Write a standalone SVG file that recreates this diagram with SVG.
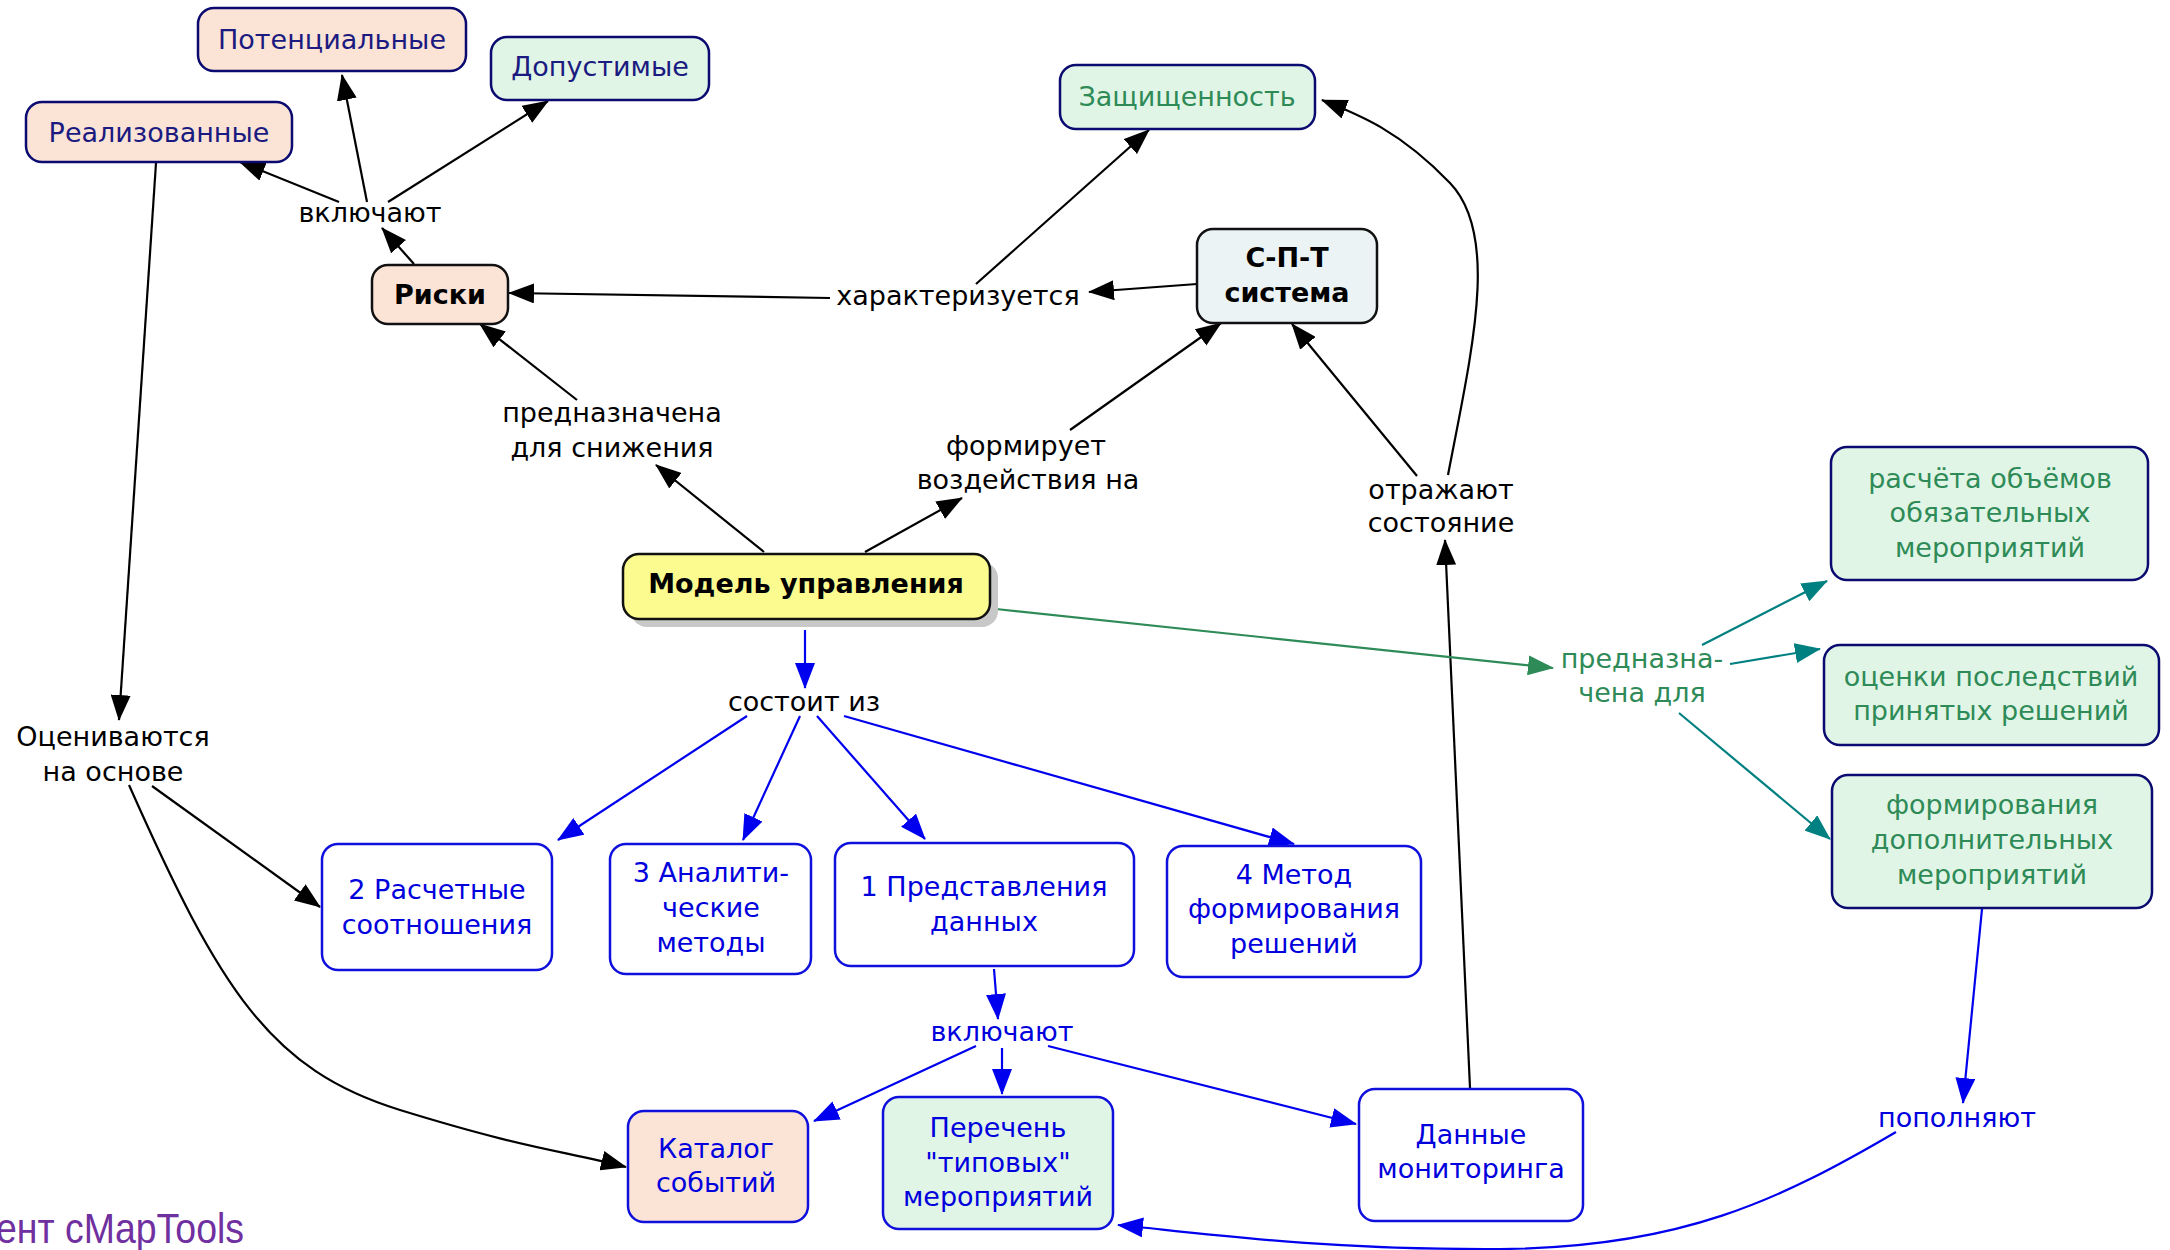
<svg xmlns="http://www.w3.org/2000/svg" width="2170" height="1250" viewBox="0 0 2170 1250">
<defs>
<style>
text{font-family:"DejaVu Sans","Verdana",sans-serif;font-size:27px;text-anchor:middle}
.nav{fill:#1a1a80}
.blk{fill:#000}
.blu{fill:#0000dd}
.grn{fill:#2e8b57}
.b{font-weight:bold}
.peach{fill:#fbe3d6;stroke:#0a0a70;stroke-width:2.5}
.green{fill:#e1f5e6;stroke:#0a0a70;stroke-width:2.5}
.white{fill:#fff;stroke:#1010dd;stroke-width:2.5}
.cb{fill:none;stroke:#000;stroke-width:2.2}
.cbl{fill:none;stroke:#0000ee;stroke-width:2.2}
.cg{fill:none;stroke:#2e8b57;stroke-width:2.2}
.ct{fill:none;stroke:#008080;stroke-width:2.2}
</style>
<marker id="ab" viewBox="0 0 26 20" refX="25" refY="10" markerWidth="26" markerHeight="20" orient="auto" markerUnits="userSpaceOnUse"><path d="M0,0 L26,10 L0,20 z" fill="#000"/></marker>
<marker id="abl" viewBox="0 0 26 20" refX="25" refY="10" markerWidth="26" markerHeight="20" orient="auto" markerUnits="userSpaceOnUse"><path d="M0,0 L26,10 L0,20 z" fill="#0000ee"/></marker>
<marker id="ag" viewBox="0 0 26 20" refX="25" refY="10" markerWidth="26" markerHeight="20" orient="auto" markerUnits="userSpaceOnUse"><path d="M0,0 L26,10 L0,20 z" fill="#2e8b57"/></marker>
<marker id="at" viewBox="0 0 26 20" refX="25" refY="10" markerWidth="26" markerHeight="20" orient="auto" markerUnits="userSpaceOnUse"><path d="M0,0 L26,10 L0,20 z" fill="#008080"/></marker>
</defs>
<rect width="2170" height="1250" fill="#fff"/>

<g id="connectors">
<path class="cb" d="M414,264 L382,228" marker-end="url(#ab)"/>
<path class="cb" d="M339,202 L240,162" marker-end="url(#ab)"/>
<path class="cb" d="M367,202 L342,75" marker-end="url(#ab)"/>
<path class="cb" d="M388,202 L548,101" marker-end="url(#ab)"/>
<path class="cb" d="M156,163 L119,720" marker-end="url(#ab)"/>
<path class="cb" d="M152,786 L320,907" marker-end="url(#ab)"/>
<path class="cb" d="M129,785 C220,990 270,1070 400,1110 S560,1150 626,1167" marker-end="url(#ab)"/>
<path class="cb" d="M830,298 L509,293" marker-end="url(#ab)"/>
<path class="cb" d="M1197,284 L1089,292" marker-end="url(#ab)"/>
<path class="cb" d="M976,284 L1149,130" marker-end="url(#ab)"/>
<path class="cb" d="M764,552 L656,465" marker-end="url(#ab)"/>
<path class="cb" d="M577,400 L480,324" marker-end="url(#ab)"/>
<path class="cb" d="M865,552 L962,498" marker-end="url(#ab)"/>
<path class="cb" d="M1070,430 L1221,323" marker-end="url(#ab)"/>
<path class="cb" d="M1417,476 L1292,324" marker-end="url(#ab)"/>
<path class="cb" d="M1448,475 C1472,350 1500,235 1450,183 S1360,115 1322,100" marker-end="url(#ab)"/>
<path class="cb" d="M1470,1088 L1445,540" marker-end="url(#ab)"/>
<path class="cbl" d="M805,630 L805,688" marker-end="url(#abl)"/>
<path class="cbl" d="M747,716 L558,840" marker-end="url(#abl)"/>
<path class="cbl" d="M800,716 L743,840" marker-end="url(#abl)"/>
<path class="cbl" d="M817,716 L925,839" marker-end="url(#abl)"/>
<path class="cbl" d="M844,716 L1294,844" marker-end="url(#abl)"/>
<path class="cbl" d="M994,969 L998,1019" marker-end="url(#abl)"/>
<path class="cbl" d="M976,1046 L814,1121" marker-end="url(#abl)"/>
<path class="cbl" d="M1002,1048 L1002,1094" marker-end="url(#abl)"/>
<path class="cbl" d="M1048,1046 L1356,1124" marker-end="url(#abl)"/>
<path class="cbl" d="M1982,909 L1963,1103" marker-end="url(#abl)"/>
<path class="cbl" d="M1896,1132 C1780,1200 1680,1248 1500,1249 S1200,1233 1118,1225" marker-end="url(#abl)"/>
<path class="cg" d="M996,609 L1553,668" marker-end="url(#ag)"/>
<path class="ct" d="M1702,645 L1827,581" marker-end="url(#at)"/>
<path class="ct" d="M1730,664 L1820,649" marker-end="url(#at)"/>
<path class="ct" d="M1679,713 L1830,839" marker-end="url(#at)"/>
</g>

<g id="n-potentsialnye"><rect class="peach" x="198" y="8" width="268" height="63" rx="16"/><text class="nav" x="332" y="49">Потенциальные</text></g>
<g id="n-dopustimye"><rect class="green" x="491" y="37" width="218" height="63" rx="16"/><text class="nav" x="600" y="76">Допустимые</text></g>
<g id="n-realizovannye"><rect class="peach" x="26" y="102" width="266" height="60" rx="16"/><text class="nav" x="159" y="142">Реализованные</text></g>
<g id="n-riski"><rect class="peach" x="372" y="265" width="136" height="59" rx="16" style="stroke:#111"/><text class="blk b" x="440" y="304">Риски</text></g>
<g id="n-zashchishchennost"><rect class="green" x="1060" y="65" width="255" height="64" rx="16"/><text class="grn" x="1187" y="106">Защищенность</text></g>
<g id="n-spt"><rect x="1197" y="229" width="180" height="94" rx="16" fill="#ebf3f5" stroke="#111" stroke-width="2.5"/><text class="blk b" x="1287" y="267">С-П-Т</text><text class="blk b" x="1287" y="302">система</text></g>
<g id="n-model"><rect x="631" y="562" width="367" height="65" rx="16" fill="#c8c8c8"/><rect x="623" y="554" width="367" height="65" rx="16" fill="#fbfb8f" stroke="#111" stroke-width="2.5"/><text class="blk b" x="806" y="593">Модель управления</text></g>

<g id="l-vkl1"><text class="blk" x="370" y="222">включают</text></g>
<g id="l-harakter"><text class="blk" x="958" y="305">характеризуется</text></g>
<g id="l-prednaz"><text class="blk" x="612" y="422">предназначена</text><text class="blk" x="612" y="457">для снижения</text></g>
<g id="l-formir"><text class="blk" x="1026" y="455">формирует</text><text class="blk" x="1028" y="489">воздействия на</text></g>
<g id="l-otrazh"><text class="blk" x="1441" y="499">отражают</text><text class="blk" x="1441" y="532">состояние</text></g>
<g id="l-ocen"><text class="blk" x="113" y="746">Оцениваются</text><text class="blk" x="113" y="781">на основе</text></g>
<g id="l-sostoit"><text class="blk" x="804" y="711">состоит из</text></g>
<g id="l-prednaz2"><text class="grn" x="1642" y="668">предназна-</text><text class="grn" x="1642" y="702">чена для</text></g>
<g id="l-vkl2"><text class="blu" x="1002" y="1041">включают</text></g>
<g id="l-popoln"><text class="blu" x="1957" y="1127">пополняют</text></g>

<g id="n-raschet"><rect class="white" x="322" y="844" width="230" height="126" rx="16"/><text class="blu" x="437" y="899">2 Расчетные</text><text class="blu" x="437" y="934">соотношения</text></g>
<g id="n-analit"><rect class="white" x="610" y="844" width="201" height="130" rx="16"/><text class="blu" x="711" y="882">3 Аналити-</text><text class="blu" x="711" y="917">ческие</text><text class="blu" x="711" y="952">методы</text></g>
<g id="n-predst"><rect class="white" x="835" y="843" width="299" height="123" rx="16"/><text class="blu" x="984" y="896">1 Представления</text><text class="blu" x="984" y="931">данных</text></g>
<g id="n-metod"><rect class="white" x="1167" y="846" width="254" height="131" rx="16"/><text class="blu" x="1294" y="884">4 Метод</text><text class="blu" x="1294" y="918">формирования</text><text class="blu" x="1294" y="953">решений</text></g>
<g id="n-katalog"><rect class="peach" x="628" y="1111" width="180" height="111" rx="16" style="stroke:#1010dd"/><text class="blu" x="716" y="1158">Каталог</text><text class="blu" x="716" y="1192">событий</text></g>
<g id="n-perechen"><rect class="green" x="883" y="1097" width="230" height="132" rx="16" style="stroke:#1010dd"/><text class="blu" x="998" y="1137">Перечень</text><text class="blu" x="998" y="1172">"типовых"</text><text class="blu" x="998" y="1206">мероприятий</text></g>
<g id="n-dannye"><rect class="white" x="1359" y="1089" width="224" height="132" rx="16"/><text class="blu" x="1471" y="1144">Данные</text><text class="blu" x="1471" y="1178">мониторинга</text></g>

<g id="n-raschyota"><rect class="green" x="1831" y="447" width="317" height="133" rx="16"/><text class="grn" x="1990" y="488">расчёта объёмов</text><text class="grn" x="1990" y="522">обязательных</text><text class="grn" x="1990" y="557">мероприятий</text></g>
<g id="n-ocenki"><rect class="green" x="1824" y="645" width="335" height="100" rx="16"/><text class="grn" x="1991" y="686">оценки последствий</text><text class="grn" x="1991" y="720">принятых решений</text></g>
<g id="n-formirovaniya"><rect class="green" x="1832" y="775" width="320" height="133" rx="16"/><text class="grn" x="1992" y="814">формирования</text><text class="grn" x="1992" y="849">дополнительных</text><text class="grn" x="1992" y="884">мероприятий</text></g>

<text x="-4" y="1243" style="font-family:'Liberation Sans',Arial,sans-serif;font-size:42px;text-anchor:start;fill:#7030a0" textLength="248" lengthAdjust="spacingAndGlyphs">ент cMapTools</text>
</svg>
